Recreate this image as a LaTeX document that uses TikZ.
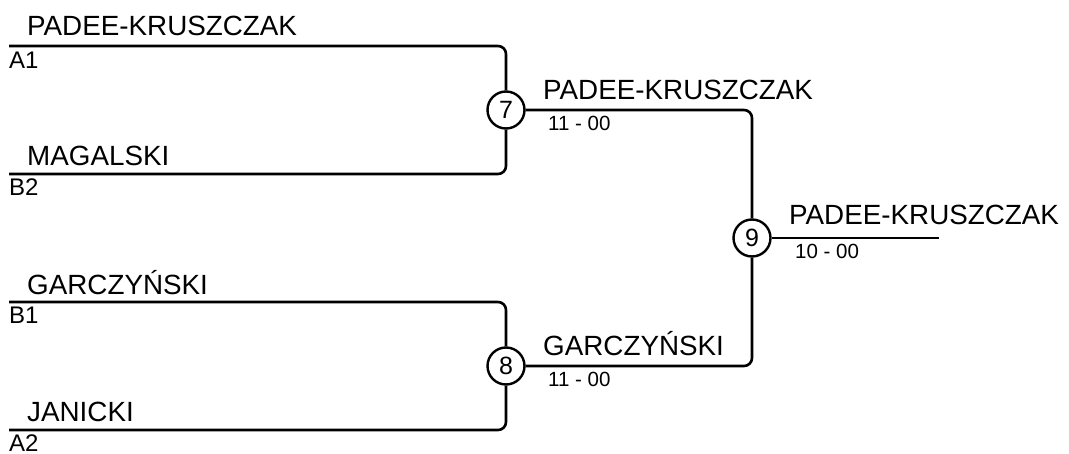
\documentclass[tikz,border=0pt]{standalone}
\usepackage{fontspec}
\setmainfont{Liberation Sans}
\begin{document}
\begin{tikzpicture}[x=1pt,y=-1pt,
  pname/.style={font=\fontsize{27.8}{30}\selectfont, anchor=base west, inner sep=0pt},
  seedlbl/.style={font=\fontsize{24}{26}\selectfont, anchor=base west, inner sep=0pt},
  scorelbl/.style={font=\fontsize{20.5}{23}\selectfont, anchor=base west, inner sep=0pt},
  matchc/.style={circle, draw, line width=2.4pt, minimum size=37pt, inner sep=0pt, font=\fontsize{25}{27}\selectfont},
  wire/.style={line width=2.6pt, rounded corners=8pt}]
\useasboundingbox[fill=white] (0,0) rectangle (1069,454);
% match circles
\node[matchc] (m7) at (506,110) {7};
\node[matchc] (m8) at (506,366) {8};
\node[matchc] (m9) at (752,238) {9};
% entry points
\coordinate (a1) at (9,46);
\coordinate (b2) at (9,174);
\coordinate (b1) at (9,302);
\coordinate (a2) at (9,430);
\coordinate (fin) at (939,238);
% connectors
\draw[wire] (a1) -| (m7);
\draw[wire] (b2) -| (m7);
\draw[wire] (b1) -| (m8);
\draw[wire] (a2) -| (m8);
\draw[wire] (m7) -| (m9);
\draw[wire] (m8) -| (m9);
\draw[wire] (m9) -- (fin);
% player names
\node[pname] (n1) at (27,36) {PADEE-KRUSZCZAK};
\node[pname] (n2) at (27,166) {MAGALSKI};
\node[pname] (n3) at (27,295) {GARCZYŃSKI};
\node[pname] (n4) at (27,421) {JANICKI};
% seeds
\node[seedlbl] (s1) at (9,69) {A1};
\node[seedlbl] (s2) at (9,196) {B2};
\node[seedlbl] (s3) at (9,324) {B1};
\node[seedlbl] (s4) at (9,451) {A2};
% winners
\node[pname] (w7) at (543,100) {PADEE-KRUSZCZAK};
\node[scorelbl] (r7) at (548,131) {11 - 00};
\node[pname] (w8) at (543,356) {GARCZYŃSKI};
\node[scorelbl] (r8) at (548,387) {11 - 00};
\node[pname] (w9) at (789,225) {PADEE-KRUSZCZAK};
\node[scorelbl] (r9) at (795,259) {10 - 00};
\end{tikzpicture}
\end{document}
